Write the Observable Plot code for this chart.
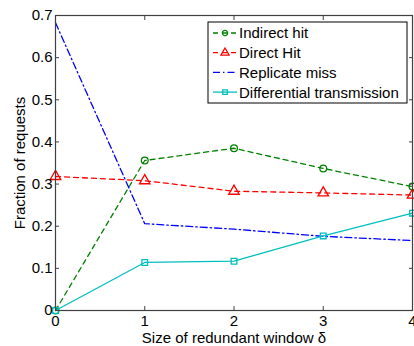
<!DOCTYPE html>
<html><head><meta charset="utf-8">
<script src="https://cdn.jsdelivr.net/npm/d3@7"></script>
<script src="https://cdn.jsdelivr.net/npm/@observablehq/plot@0.6"></script>
<style>body{margin:0;background:#fff} #chart svg{overflow:visible}</style>
</head><body><div id="chart"></div>
<script>
const windowSizes = [0, 1, 2, 3, 4];
const indirectHit = [0, 0.356, 0.385, 0.337, 0.294];
const directHit = [0.318, 0.308, 0.283, 0.279, 0.274];
const replicateMiss = [0.683, 0.206, 0.193, 0.176, 0.166];
const differentialTransmission = [0, 0.114, 0.117, 0.177, 0.231];
const seriesNames = ["Indirect hit", "Direct Hit", "Replicate miss", "Differential transmission"];
const xTicks = [0, 1, 2, 3, 4];
const yTicks = [0, 0.1, 0.2, 0.3, 0.4, 0.5, 0.6, 0.7];

const seriesValues = [indirectHit, directHit, replicateMiss, differentialTransmission];
const styles = [
  {stroke: "#008000", dash: "5,4", symbol: "circle", r: 3.4},
  {stroke: "#ff0000", dash: "5,4", symbol: "triangle", r: 3.9},
  {stroke: "#0000ff", dash: "7,3,1.5,3", symbol: null, r: 0},
  {stroke: "#00bfbf", dash: null, symbol: "square", r: 3.2}
];
const series = seriesNames.map((name, i) => windowSizes.map((x, j) => ({name, x, y: seriesValues[i][j]})));

const font = "Liberation Sans, Arial, Helvetica, sans-serif";
const axisColor = "#404040";
const marks = [];
series.forEach((data, i) => {
  const s = styles[i];
  marks.push(Plot.line(data, {x: "x", y: "y", stroke: s.stroke, strokeWidth: 1.3, strokeDasharray: s.dash}));
});
series.forEach((data, i) => {
  const s = styles[i];
  if (s.symbol) marks.push(Plot.dot(data, {x: "x", y: "y", symbol: s.symbol, r: s.r, stroke: s.stroke, strokeWidth: 1.3, fill: "none"}));
});

const chart = Plot.plot({
  width: 414, height: 346,
  marginLeft: 55, marginRight: 2, marginTop: 15, marginBottom: 36,
  style: {fontFamily: font, fontSize: "15px", color: "#000", background: "#fff"},
  x: {domain: [0, 4]},
  y: {domain: [0, 0.7]},
  marks: [
    ...marks,
    Plot.frame({stroke: axisColor, strokeWidth: 1.2}),
    Plot.axisX(xTicks, {anchor: "bottom", tickSize: 0, tickPadding: 5, fontSize: 15, tickFormat: d => String(d), label: "Size of redundant window δ", labelAnchor: "center", labelArrow: "none", labelOffset: 32, color: "#000"}),
    Plot.axisX(xTicks, {anchor: "bottom", tickSize: -4, tickFormat: () => "", label: null, stroke: axisColor}),
    Plot.axisX(xTicks, {anchor: "top", tickSize: -4, tickFormat: () => "", label: null, stroke: axisColor}),
    Plot.axisY(yTicks, {anchor: "left", tickSize: 0, tickPadding: 3, fontSize: 15, tickFormat: d => String(d), label: "Fraction of requests", labelAnchor: "center", labelArrow: "none", labelOffset: 41, color: "#000"}),
    Plot.axisY(yTicks, {anchor: "left", tickSize: -4, tickFormat: () => "", label: null, stroke: axisColor}),
    Plot.axisY(yTicks, {anchor: "right", tickSize: -4, tickFormat: () => "", label: null, stroke: axisColor})
  ]
});
document.getElementById("chart").appendChild(chart);

// Legend
const svg = d3.select(chart);
const lg = svg.append("g").attr("font-family", font).attr("font-size", 15).attr("text-anchor", "start");
const bx = 208, by = 22, bw = 199, bh = 81;
lg.append("rect").attr("x", bx).attr("y", by).attr("width", bw).attr("height", bh).attr("fill", "#fff").attr("stroke", "#000").attr("stroke-width", 1);
seriesNames.forEach((name, i) => {
  const s = styles[i];
  const cy = by + 11 + i * 19.7;
  lg.append("line").attr("x1", 213).attr("x2", 237).attr("y1", cy).attr("y2", cy)
    .attr("stroke", s.stroke).attr("stroke-width", 1.3).attr("stroke-dasharray", s.dash);
  if (s.symbol) {
    const sym = {circle: d3.symbolCircle, triangle: d3.symbolTriangle, square: d3.symbolSquare}[s.symbol];
    lg.append("path").attr("d", d3.symbol(sym, Math.PI * s.r * s.r * 0.6)()).attr("transform", `translate(225,${cy})`)
      .attr("fill", "none").attr("stroke", s.stroke).attr("stroke-width", 1.3);
  }
  lg.append("text").attr("x", 239).attr("y", cy).attr("dy", "0.36em").attr("text-anchor", "start").attr("fill", "#000").text(name);
});
</script></body></html>
